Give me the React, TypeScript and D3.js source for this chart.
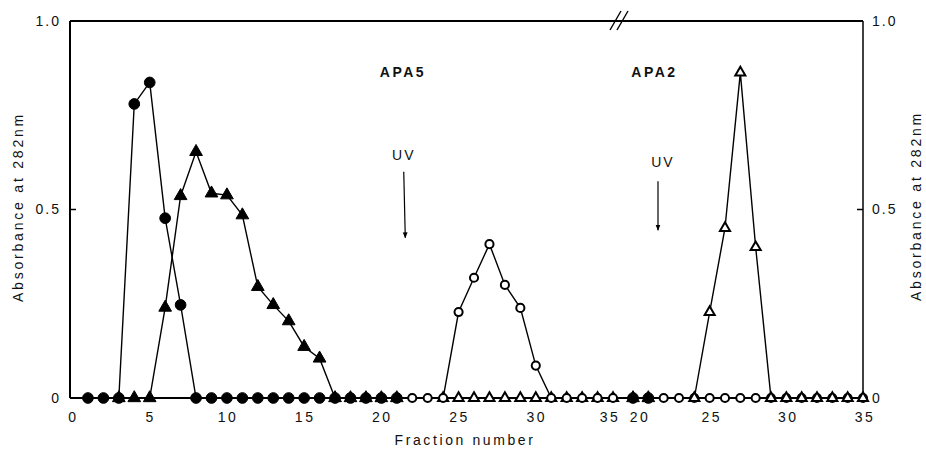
import * as d3 from "d3";

type Pt = [number, number];

// fraction number -> absorbance at 282nm
const apa5FilledCircles: Pt[] = [
  [1, 0], [2, 0], [3, 0], [4, 0.78], [5, 0.837], [6, 0.477], [7, 0.247],
  [8, 0], [9, 0], [10, 0], [11, 0], [12, 0], [13, 0], [14, 0], [15, 0],
  [16, 0], [17, 0], [18, 0], [19, 0], [20, 0], [21, 0],
];
const apa5FilledTriangles: Pt[] = [
  [3, 0], [4, 0], [5, 0], [6, 0.24], [7, 0.536], [8, 0.653], [9, 0.543],
  [10, 0.538], [11, 0.485], [12, 0.295], [13, 0.247], [14, 0.204],
  [15, 0.136], [16, 0.105], [17, 0], [18, 0], [19, 0], [20, 0], [21, 0],
];
const apa5OpenCircles: Pt[] = [
  [22, 0], [23, 0], [24, 0], [25, 0.228], [26, 0.319], [27, 0.408],
  [28, 0.3], [29, 0.239], [30, 0.086], [31, 0], [32, 0], [33, 0], [34, 0], [35, 0],
];
const apa5OpenTriangles: Pt[] = [
  [24, 0], [25, 0], [26, 0], [27, 0], [28, 0], [29, 0], [30, 0],
  [31, 0], [32, 0], [33, 0], [34, 0], [35, 0],
];

const apa2FilledCircles: Pt[] = [[20, 0], [21, 0]];
const apa2FilledTriangles: Pt[] = [[20, 0], [21, 0]];
const apa2OpenCircles: Pt[] = [
  [22, 0], [23, 0], [24, 0], [25, 0], [26, 0], [27, 0], [28, 0],
  [29, 0], [30, 0], [31, 0], [32, 0], [33, 0], [34, 0], [35, 0],
];
const apa2OpenTriangles: Pt[] = [
  [24, 0], [25, 0.228], [26, 0.451], [27, 0.863], [28, 0.4], [29, 0],
  [30, 0], [31, 0], [32, 0], [33, 0], [34, 0], [35, 0],
];

const leftTicks = [0, 5, 10, 15, 20, 25, 30, 35];
const rightTicks = [20, 25, 30, 35];
const yTicks = [0, 0.5, 1.0];
const yTickLabels = ["0", "0.5", "1.0"];

const font = "'Liberation Sans', Arial, sans-serif";

export default function App() {
  const W = 926;
  const H = 453;
  const top = 21;
  const bottom = 398;
  const left = 70;
  const right = 863;

  const y = d3.scaleLinear().domain([0, 1]).range([bottom, top]);
  const xL = d3.scaleLinear().domain([0, 35]).range([72.5, 613]);
  const xR = d3.scaleLinear().domain([20, 35]).range([633, 863]);

  const lineFor = (x: d3.ScaleLinear<number, number>) =>
    d3.line<Pt>().x((d) => x(d[0])).y((d) => y(d[1]));

  const dot = d3.symbol().type(d3.symbolCircle).size(90)()!;
  const tri = d3.symbol().type(d3.symbolTriangle).size(70)()!;
  const ring = d3.symbol().type(d3.symbolCircle).size(52)()!;
  const otri = d3.symbol().type(d3.symbolTriangle).size(44)()!;

  const series = (
    x: d3.ScaleLinear<number, number>,
    data: Pt[],
    shape: string,
    open: boolean,
    key: string
  ) => (
    <g key={key}>
      <path d={lineFor(x)(data)!} fill="none" stroke="#000" strokeWidth={1.4} />
      {data.map((d, i) => (
        <path
          key={i}
          d={shape}
          transform={`translate(${x(d[0])},${y(d[1])})`}
          fill={open ? "#fff" : "#000"}
          stroke="#000"
          strokeWidth={open ? 2 : 1}
        />
      ))}
    </g>
  );

  const txt = { fontFamily: font, fill: "#111" } as const;

  return (
    <svg
      width={W}
      height={H}
      style={{ position: "absolute", left: 0, top: 0, background: "#fff" }}
    >
      <defs>
        <marker id="ah" viewBox="0 0 10 10" refX="9" refY="5" markerWidth="5" markerHeight="7" orient="auto">
          <path d="M0,1 L10,5 L0,9 z" fill="#000" />
        </marker>
      </defs>

      {/* frame */}
      <line x1={left} x2={left} y1={top} y2={bottom} stroke="#000" strokeWidth={2} />
      <line x1={right} x2={right} y1={top} y2={bottom} stroke="#000" strokeWidth={1.5} />
      <line x1={left} x2={right} y1={top} y2={top} stroke="#000" strokeWidth={2} />
      <line x1={left} x2={right} y1={bottom} y2={bottom} stroke="#000" strokeWidth={2} />
      {/* axis break */}
      <line x1={610} y1={30} x2={621} y2={11} stroke="#000" strokeWidth={1.4} />
      <line x1={617} y1={30} x2={628} y2={11} stroke="#000" strokeWidth={1.4} />

      {/* y ticks */}
      {yTicks.map((t, i) => (
        <g key={t}>
          <line x1={left} x2={left + 6} y1={y(t)} y2={y(t)} stroke="#000" strokeWidth={1.5} />
          <line x1={right - 6} x2={right} y1={y(t)} y2={y(t)} stroke="#000" strokeWidth={1.5} />
          <text x={61} y={y(t)} dy="0.35em" textAnchor="end" fontSize={14} letterSpacing={2} style={txt}>
            {yTickLabels[i]}
          </text>
          <text x={872} y={y(t)} dy="0.35em" textAnchor="start" fontSize={14} letterSpacing={2} style={txt}>
            {yTickLabels[i]}
          </text>
        </g>
      ))}

      {/* x tick labels (the two labels beside the break are nudged apart as in the figure) */}
      {leftTicks.map((t, i) => (
        <text
          key={"l" + t}
          x={xL(t) + (i === leftTicks.length - 1 ? -3 : 1)}
          y={422}
          textAnchor="middle"
          fontSize={14}
          letterSpacing={2.5}
          style={txt}
        >
          {t}
        </text>
      ))}
      {rightTicks.map((t, i) => (
        <text
          key={"r" + t}
          x={xR(t) + (i === 0 ? 7 : 2)}
          y={422}
          textAnchor="middle"
          fontSize={14}
          letterSpacing={2.5}
          style={txt}
        >
          {t}
        </text>
      ))}

      {/* axis titles */}
      <text x={465} y={445} textAnchor="middle" fontSize={14} letterSpacing={2.6} style={txt}>
        Fraction number
      </text>
      <text transform="translate(23,207) rotate(-90)" textAnchor="middle" fontSize={14} letterSpacing={2.8} style={txt}>
        Absorbance at 282nm
      </text>
      <text transform="translate(921,206) rotate(-90)" textAnchor="middle" fontSize={14} letterSpacing={2.8} style={txt}>
        Absorbance at 282nm
      </text>

      {/* annotations */}
      <text x={xL(21.4)} y={y(0.865)} dy="0.35em" textAnchor="middle" fontSize={14} letterSpacing={2.5} fontWeight={600} style={txt}>
        APA5
      </text>
      <text x={xR(21.4)} y={y(0.865)} dy="0.35em" textAnchor="middle" fontSize={14} letterSpacing={2.5} fontWeight={600} style={txt}>
        APA2
      </text>
      <text x={xL(21.45)} y={y(0.645)} dy="0.35em" textAnchor="middle" fontSize={14} letterSpacing={2} style={txt}>
        UV
      </text>
      <line x1={xL(21.45)} y1={y(0.6)} x2={xL(21.55)} y2={y(0.425)} stroke="#000" strokeWidth={1.2} markerEnd="url(#ah)" />
      <text x={xR(21.95)} y={y(0.625)} dy="0.35em" textAnchor="middle" fontSize={14} letterSpacing={2} style={txt}>
        UV
      </text>
      <line x1={xR(21.63)} y1={y(0.575)} x2={xR(21.63)} y2={y(0.445)} stroke="#000" strokeWidth={1.2} markerEnd="url(#ah)" />

      {/* left panel: APA5 */}
      {series(xL, apa5FilledCircles, dot, false, "a5fc")}
      {series(xL, apa5FilledTriangles, tri, false, "a5ft")}
      {series(xL, apa5OpenTriangles, otri, true, "a5ot")}
      {series(xL, apa5OpenCircles, ring, true, "a5oc")}

      {/* right panel: APA2 */}
      {series(xR, apa2FilledCircles, dot, false, "a2fc")}
      {series(xR, apa2FilledTriangles, tri, false, "a2ft")}
      {series(xR, apa2OpenCircles, ring, true, "a2oc")}
      {series(xR, apa2OpenTriangles, otri, true, "a2ot")}
    </svg>
  );
}
